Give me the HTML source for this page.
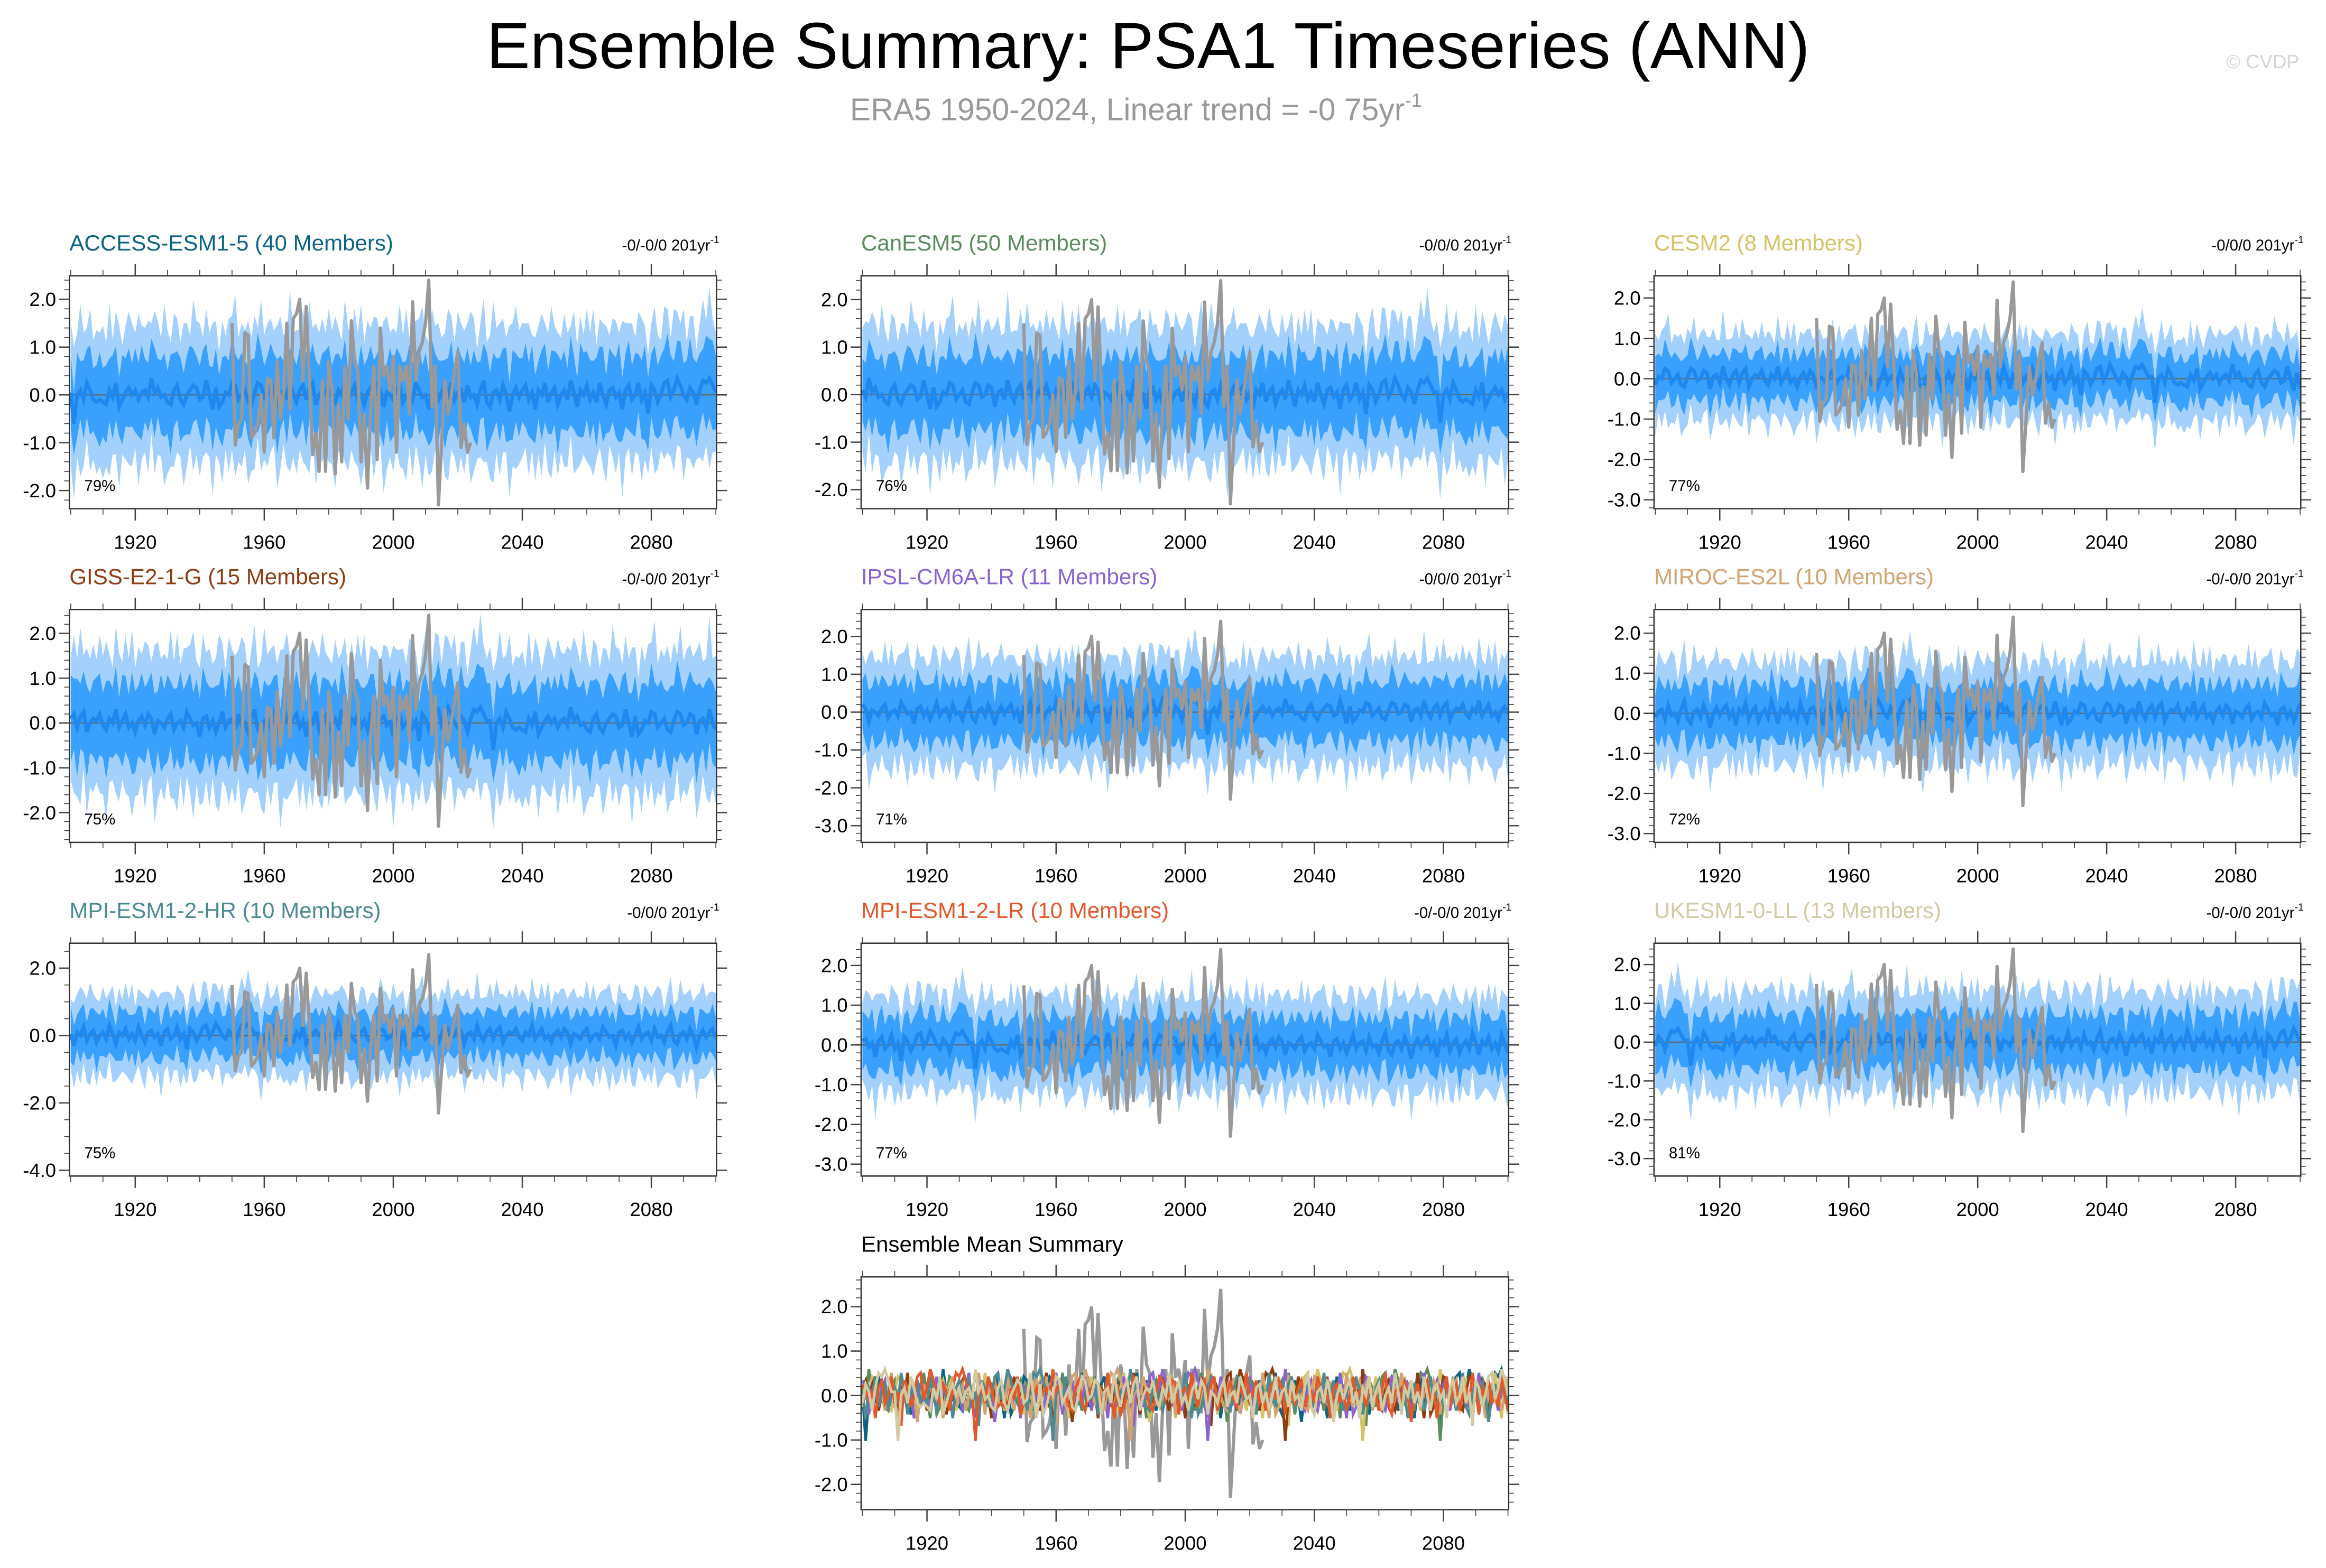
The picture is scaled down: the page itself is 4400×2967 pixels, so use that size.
<!DOCTYPE html>
<html><head><meta charset="utf-8"><style>
html,body{margin:0;padding:0;background:#fff;}
svg{display:block;font-family:"Liberation Sans",Arial,sans-serif;}
</style></head><body>
<svg id="fig" xmlns="http://www.w3.org/2000/svg" width="4400" height="2967" viewBox="0 0 1568 1057.3" preserveAspectRatio="none">
<rect width="1568" height="1057.3" fill="#fff"/>
<text x="774" y="46" font-size="44" text-anchor="middle" textLength="892" lengthAdjust="spacingAndGlyphs" fill="#000">Ensemble Summary: PSA1 Timeseries (ANN)</text>
<text x="573" y="81" font-size="21" fill="#999">ERA5 1950-2024, Linear trend = -0 75yr<tspan font-size="13" dy="-9">-1</tspan></text>
<text x="1550" y="46" font-size="13" text-anchor="end" fill="#d4d4d4">© CVDP</text>
<g id="panels"></g>
</svg>
<script>
// ERA5 observed, 1950-2024
const era5 = [1.5,-1.05,-0.6,-0.5,1.3,1.25,-0.9,-0.8,-0.6,0.0,-1.2,0.35,0.3,-0.9,0.7,-0.5,0.1,1.5,-0.3,1.6,
1.7,2.0,0.3,1.85,0.3,-1.25,-0.8,-1.6,0.3,-1.6,0.7,0.1,-1.65,-0.2,-1.4,0.6,-0.5,1.55,0.7,0.5,
-1.4,-0.4,-1.95,-0.3,0.6,-1.35,1.4,0.4,0.6,0.1,0.8,-1.2,0.6,0.3,0.6,-0.4,1.95,0.3,0.9,1.1,
1.5,2.4,-0.25,0.6,-2.3,-1.0,0.3,-0.4,0.0,0.5,0.9,-1.1,-0.6,-1.2,-1.0];
const era5Start = 1950;
const simStart = 1900;
// ensemble mean (1900-2100)
const ensMean = [0.05,-0.6,0.0,0.1,-0.1,0.25,0.1,-0.1,-0.15,-0.1,-0.15,-0.2,0.1,-0.05,0.25,-0.25,-0.1,0.05,0.15,0.0,
0.1,-0.1,0.05,0.1,-0.05,0.35,0.05,0.15,-0.05,0.0,-0.15,-0.2,0.1,0.2,-0.1,-0.2,0.0,0.1,0.2,0.15,
-0.1,-0.05,0.3,0.0,-0.3,0.15,-0.25,-0.15,0.05,0.0,0.25,0.2,-0.1,0.0,0.1,-0.15,-0.2,0.05,0.25,0.2,
-0.05,0.0,0.2,0.15,-0.25,0.05,0.1,-0.1,0.3,0.0,-0.15,0.1,0.2,-0.1,0.15,0.25,-0.2,0.0,0.1,0.05,
0.2,-0.05,-0.15,0.1,0.0,0.3,-0.1,0.05,0.2,-0.1,0.0,-0.2,0.05,0.15,-0.05,0.2,0.1,-0.25,0.05,0.0,
-0.1,0.1,0.2,-0.15,0.0,0.05,-0.1,0.25,0.1,-0.05,0.0,-0.3,0.1,0.15,-0.1,0.05,-0.2,0.0,0.25,-0.1,
0.05,0.1,-0.15,0.2,-0.05,0.0,-0.2,0.1,0.3,-0.15,-0.25,0.05,0.1,-0.1,0.2,0.0,-0.35,0.0,0.15,-0.05,
0.1,0.2,-0.1,0.05,-0.3,0.1,0.0,0.25,-0.15,0.05,0.15,-0.2,0.0,0.1,-0.1,0.3,0.05,-0.25,0.1,0.0,
0.2,-0.1,0.05,-0.15,0.25,0.0,-0.2,0.1,0.15,-0.05,0.05,-0.3,0.1,0.2,-0.1,0.0,0.25,-0.1,0.05,-0.4,
0.2,0.1,-0.15,0.0,0.25,0.3,-0.05,0.1,0.35,0.2,0.0,-0.1,0.15,0.05,-0.2,0.1,0.3,0.25,0.35,0.2,
0.05];
// half-width of inner (dark) band
const innerHalf = [0.7,0.6,0.8,0.55,0.75,0.65,0.85,0.6,0.7,0.9,0.65,0.75,0.6,0.8,0.7,0.55,0.85,0.65,0.75,0.6,
0.8,0.7,0.9,0.6,0.65,0.75,0.85,0.55,0.7,0.8,0.6,0.95,0.7,0.65,0.8,0.6,0.75,0.85,0.7,0.6,
0.65,0.9,0.7,0.55,0.8,0.75,0.6,0.85,0.7,0.65,0.9,0.6,0.75,0.8,0.55,0.7,0.85,0.65,0.95,0.7,
0.6,0.75,0.8,0.65,0.9,0.7,0.55,0.85,0.6,0.75,0.7,0.8,0.65,0.9,0.6,0.75,0.85,0.55,0.7,0.8,
0.75,0.6,0.9,0.7,0.65,0.8,0.55,0.85,0.7,0.6,0.95,0.75,0.65,0.8,0.7,0.6,0.85,0.75,0.55,0.9,
0.7,0.8,0.6,0.75,0.65,0.9,0.7,0.55,0.85,0.6,0.8,0.7,0.95,0.65,0.75,0.6,0.85,0.7,0.8,0.55,
0.9,0.65,0.75,0.7,0.6,0.85,0.8,0.55,0.7,0.95,0.65,0.75,0.6,0.8,0.7,0.9,0.55,0.85,0.65,0.75,
0.6,0.8,0.7,0.9,0.65,0.55,0.85,0.75,0.6,0.8,0.7,0.95,0.65,0.75,0.6,0.85,0.7,0.55,0.9,0.8,
0.65,0.75,0.6,0.85,0.7,0.9,0.55,0.8,0.65,0.75,0.95,0.6,0.7,0.85,0.65,0.8,0.55,0.75,0.9,0.7,
0.6,0.85,0.7,0.75,0.65,0.9,0.8,0.55,0.7,0.85,0.6,0.75,0.95,0.65,0.8,0.7,0.6,0.9,0.75,0.85,
0.7];
// half-width of outer (light) band
const outerHalf = [1.4,1.3,1.6,1.2,1.5,1.35,1.7,1.25,1.45,1.8,1.3,1.5,1.2,1.6,1.4,1.15,1.7,1.3,1.55,1.25,
1.6,1.4,1.75,1.2,1.35,1.5,1.65,1.15,1.45,1.6,1.25,1.85,1.4,1.3,1.6,1.2,1.5,1.7,1.4,1.25,
1.3,1.75,1.4,1.15,1.6,1.5,1.25,1.7,1.4,1.3,1.8,1.2,1.5,1.6,1.15,1.4,1.7,1.3,1.9,1.4,
1.25,1.5,1.6,1.3,1.8,1.4,1.15,1.7,1.25,1.5,1.4,1.6,1.3,1.8,1.2,1.5,1.7,1.15,1.4,1.6,
1.5,1.2,1.8,1.4,1.3,1.6,1.15,1.7,1.4,1.25,1.9,1.5,1.3,1.6,1.4,1.2,1.7,1.5,1.15,1.8,
1.4,1.6,1.25,1.5,1.3,1.8,1.4,1.15,1.7,1.2,1.6,1.4,1.9,1.3,1.5,1.25,1.7,1.4,1.6,1.15,
1.8,1.3,1.5,1.4,1.2,1.7,1.6,1.15,1.4,1.9,1.3,1.5,1.25,1.6,1.4,1.8,1.15,1.7,1.3,1.5,
1.25,1.6,1.4,1.8,1.3,1.15,1.7,1.5,1.2,1.6,1.4,1.9,1.3,1.5,1.25,1.7,1.4,1.15,1.8,1.6,
1.3,1.5,1.2,1.7,1.4,1.8,1.15,1.6,1.3,1.5,1.9,1.25,1.4,1.7,1.3,1.6,1.15,1.5,1.8,1.4,
1.2,1.7,1.4,1.5,1.3,1.8,1.6,1.15,1.4,1.7,1.25,1.5,1.9,1.3,1.6,1.4,1.2,1.8,1.5,1.7,
1.4];
const modelNames = ["ACCESS-ESM1-5 (40 Members)","CanESM5 (50 Members)","CESM2 (8 Members)","GISS-E2-1-G (15 Members)","IPSL-CM6A-LR (11 Members)","MIROC-ES2L (10 Members)","MPI-ESM1-2-HR (10 Members)","MPI-ESM1-2-LR (10 Members)","UKESM1-0-LL (13 Members)"];
const trendLabels = ["-0/-0/0 201yr","-0/0/0 201yr","-0/0/0 201yr","-0/-0/0 201yr","-0/0/0 201yr","-0/-0/0 201yr","-0/0/0 201yr","-0/-0/0 201yr","-0/-0/0 201yr"];
const pctLabels = ["79%","76%","77%","75%","71%","72%","75%","77%","81%"];
const spreadScale = [1.0,1.0,0.75,1.1,1.0,0.9,0.85,0.85,0.9];
const seriesShift = [0,23,47,71,95,119,143,167,191];
const yMins = [-2.38,-2.4,-3.22,-2.66,-3.44,-3.22,-4.17,-3.3,-3.45];
const yMaxs = [2.49,2.5,2.55,2.53,2.71,2.59,2.74,2.56,2.55];
const yTickSets = [[-2,-1,0,1,2],[-2,-1,0,1,2],[-3,-2,-1,0,1,2],[-2,-1,0,1,2],[-3,-2,-1,0,1,2],[-3,-2,-1,0,1,2],[-4,-2,0,2],[-3,-2,-1,0,1,2],[-3,-2,-1,0,1,2]];
const xTickLabels = [1920,1960,2000,2040,2080];
const titleColors = ["#0b6485","#5b8c5e","#d4c264","#8e3d12","#8a63d2","#d2a371","#4b8b91","#e2582a","#d2caa2"];
const summaryYTicks = [-2,-1,0,1,2];

const NS="http://www.w3.org/2000/svg";
const root=document.getElementById('panels');
function mk(tag,attrs,parent){const e=document.createElementNS(NS,tag);for(const k in attrs)e.setAttribute(k,attrs[k]);(parent||root).appendChild(e);return e;}
const colX=[[46.8,483],[580.5,1017],[1115,1551]];
const rowY=[[186,343],[411,568],[636,793],[861,1018]];
let clipId=0;

function drawAxes(g,x0,x1,y0,y1,xs,ys,yTicks,yMin,yMax,minorStep){
  for(let v=Math.ceil(yMin/minorStep-1e-6)*minorStep; v<=yMax+1e-6; v+=minorStep){
    const vv=Math.round(v*100)/100;const yy=ys(vv);
    const major=yTicks.some(t=>Math.abs(t-vv)<1e-6);
    const L=major?7:3.5;
    const t1=mk('line',{x1:x0-L,x2:x0,y1:yy,y2:yy,stroke:'#444','stroke-width':major?0.9:0.6},g);
    
    const t2=mk('line',{x1:x1,x2:x1+L,y1:yy,y2:yy,stroke:'#444','stroke-width':major?0.9:0.6},g);
    
  }
  yTicks.forEach(t=>{
    const tx=mk('text',{x:x0-9,y:ys(t)+4.5,'font-size':13,'text-anchor':'end',fill:'#000'},g);
    
    tx.textContent=t.toFixed(1);
  });
  for(let yr=1900;yr<=2100;yr+=10){
    const major=(yr-1920)%40===0;const L=major?8:4;const xx=xs(yr);
    const a=mk('line',{x1:xx,x2:xx,y1:y0-L,y2:y0,stroke:'#444','stroke-width':major?0.9:0.6},g);
    
    const b=mk('line',{x1:xx,x2:xx,y1:y1,y2:y1+L,stroke:'#444','stroke-width':major?0.9:0.6},g);
    
  }
  xTickLabels.forEach(yr=>{
    const tx=mk('text',{x:xs(yr),y:y1+27,'font-size':13,'text-anchor':'middle',fill:'#000'},g);
    
    tx.textContent=yr;
  });
}
function linePath(vals,start,xs,ys){return vals.map((v,i)=>(i?'L':'M')+xs(start+i).toFixed(2)+','+ys(v).toFixed(2)).join('');}
function bandPath(lo,hi,xs,ys){
  let d='';hi.forEach((v,i)=>{d+=(i?'L':'M')+xs(simStart+i).toFixed(2)+','+ys(v).toFixed(2);});
  for(let i=lo.length-1;i>=0;i--)d+='L'+xs(simStart+i).toFixed(2)+','+ys(lo[i]).toFixed(2);
  return d+'Z';
}
function shifted(arr,k){return arr.map((_,i)=>arr[(i+k)%arr.length]);}

modelNames.forEach((name,p)=>{
  const col=p%3,row=Math.floor(p/3);
  const [x0,x1]=colX[col],[y0,y1]=rowY[row];
  const yMin=yMins[p],yMax=yMaxs[p];
  const xs=yr=>x0+(yr-1899.6)/(2100.2-1899.6)*(x1-x0);
  const ys=v=>y1-(v-yMin)/(yMax-yMin)*(y1-y0);
  const g=mk('g',{});
  
  
  const cid='c'+(clipId++);
  const cp=mk('clipPath',{id:cid},g);mk('rect',{x:x0,y:y0,width:x1-x0,height:y1-y0},cp);
  const m=shifted(ensMean,seriesShift[p]);
  const ih=shifted(innerHalf,seriesShift[p]).map(v=>v*spreadScale[p]*1.1);
  const oh=shifted(outerHalf,(seriesShift[p]+61)%201).map(v=>v*spreadScale[p]);
  const pg=mk('g',{'clip-path':'url(#'+cid+')'},g);
  const ob=mk('path',{d:bandPath(m.map((v,i)=>v-oh[i]),m.map((v,i)=>v+oh[i]),xs,ys),fill:'#a3d0fd'},pg);
  
  const ib=mk('path',{d:bandPath(m.map((v,i)=>v-ih[i]),m.map((v,i)=>v+ih[i]),xs,ys),fill:'#3aa0fd'},pg);
  
  const zl=mk('line',{x1:x0,x2:x1,y1:ys(0),y2:ys(0),stroke:'#666','stroke-width':0.8},pg);
  
  const ml=mk('path',{d:linePath(m,simStart,xs,ys),fill:'none',stroke:'#1e88ee','stroke-width':2.5},pg);
  
  const ol=mk('path',{d:linePath(era5,era5Start,xs,ys),fill:'none',stroke:'#999','stroke-width':2.2,'stroke-linejoin':'round'},pg);
  
  const bx=mk('rect',{x:x0,y:y0,width:x1-x0,height:y1-y0,fill:'none',stroke:'#333','stroke-width':0.9},g);
  
  drawAxes(g,x0,x1,y0,y1,xs,ys,yTickSets[p],yMin,yMax,p===6?0.5:0.2);
  const tt=mk('text',{x:x0,y:y0-17,'font-size':15,fill:titleColors[p]},g);
  
  tt.textContent=name;
  const tr=mk('text',{x:x1+2,y:y0-17,'font-size':10.5,'text-anchor':'end',fill:'#000'},g);
  
  tr.textContent=trendLabels[p];
  const sup=mk('tspan',{'font-size':7,dy:-5},tr);sup.textContent='-1';
  const pc=mk('text',{x:x0+10,y:y1-12,'font-size':10.5,fill:'#000'},g);
  
  pc.textContent=pctLabels[p];
});

// summary panel
(function(){
  const [x0,x1]=colX[1],[y0,y1]=rowY[3];
  const yMin=-2.57,yMax=2.67;
  const xs=yr=>x0+(yr-1899.6)/(2100.2-1899.6)*(x1-x0);
  const ys=v=>y1-(v-yMin)/(yMax-yMin)*(y1-y0);
  const g=mk('g',{});
  
  
  const cp=mk('clipPath',{id:'csum'},g);mk('rect',{x:x0,y:y0,width:x1-x0,height:y1-y0},cp);
  const pg=mk('g',{'clip-path':'url(#csum)'},g);
  const zl=mk('line',{x1:x0,x2:x1,y1:ys(0),y2:ys(0),stroke:'#666','stroke-width':0.8},pg);
  
  const ol=mk('path',{d:linePath(era5,era5Start,xs,ys),fill:'none',stroke:'#999','stroke-width':2.2},pg);
  
  modelNames.forEach((n,p)=>{
    const m=shifted(ensMean,seriesShift[p]).map(v=>v*1.7);
    const l=mk('path',{d:linePath(m,simStart,xs,ys),fill:'none',stroke:titleColors[p],'stroke-width':1.8},pg);
    
    
  });
  const bx=mk('rect',{x:x0,y:y0,width:x1-x0,height:y1-y0,fill:'none',stroke:'#333','stroke-width':0.9},g);
  
  drawAxes(g,x0,x1,y0,y1,xs,ys,summaryYTicks,yMin,yMax,0.2);
  const tt=mk('text',{x:x0,y:y0-17,'font-size':15,fill:'#000'},g);
  
  tt.textContent='Ensemble Mean Summary';
})();
</script>
</body></html>
